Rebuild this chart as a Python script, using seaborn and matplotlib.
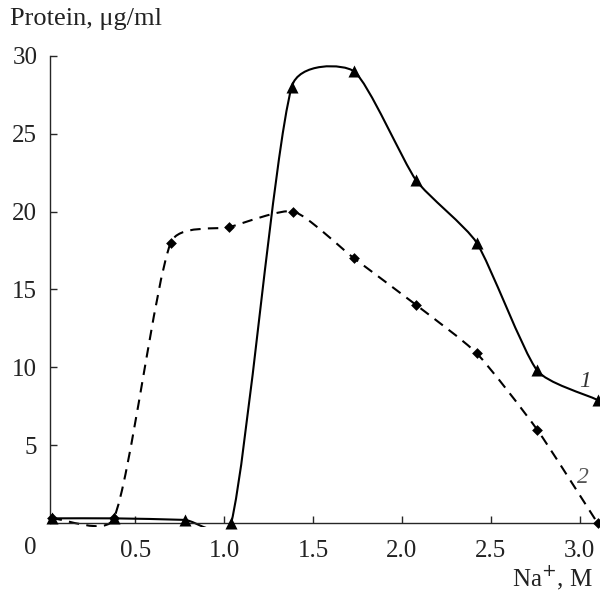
import numpy as np
import pandas as pd
import matplotlib
matplotlib.use("Agg")
import matplotlib.pyplot as plt
from matplotlib.path import Path
from matplotlib.patches import PathPatch, Rectangle
import seaborn as sns

# Data
na_1 = [0.03, 0.38, 0.78, 1.04, 1.38, 1.73, 2.08, 2.42, 2.76, 3.10]
protein_1 = [0.3, 0.3, 0.2, 0.0, 28.0, 29.0, 22.0, 18.0, 9.8, 7.9]

na_2 = [0.03, 0.38, 0.70, 1.03, 1.39, 1.73, 2.08, 2.42, 2.76, 3.10]
protein_2 = [0.3, 0.3, 18.0, 19.0, 20.0, 17.0, 14.0, 10.9, 6.0, 0.0]

x_ticks = [0.5, 1.0, 1.5, 2.0, 2.5, 3.0]
y_ticks = [5, 10, 15, 20, 25, 30]

# rough screen scale (px per data unit) used to weight the smoothing
SX, SY = 178.0, 15.6


def smooth_path(xs, ys, a=0.2):
    # smoothed line: bezier through the points, tangent length weighted
    # by sqrt of neighbouring segment lengths (centripetal-like)
    pts = np.column_stack([xs, ys]).astype(float)
    n = len(pts)
    scr = pts * [SX, SY]
    seg = np.sqrt(np.hypot(*np.diff(scr, axis=0).T))
    out_c, in_c = [], []
    for i in range(n):
        if i == 0:
            t = pts[1] - pts[0]
            out_c.append(pts[0] + t * a)
            in_c.append(pts[0])
        elif i == n - 1:
            t = pts[-1] - pts[-2]
            out_c.append(pts[-1])
            in_c.append(pts[-1] - t * a)
        else:
            t = pts[i + 1] - pts[i - 1]
            l0, l1 = seg[i - 1], seg[i]
            out_c.append(pts[i] + t * a * l1 / (l0 + l1))
            in_c.append(pts[i] - t * a * l0 / (l0 + l1))
    verts = [pts[0]]
    codes = [Path.MOVETO]
    for i in range(n - 1):
        verts += [out_c[i], in_c[i + 1], pts[i + 1]]
        codes += [Path.CURVE4] * 3
    return Path(verts, codes)


sns.set_style("ticks")
plt.rcParams['font.family'] = ['Liberation Serif', 'DejaVu Serif']
plt.rcParams['font.size'] = 18

fig = plt.figure(figsize=(6, 5.93), dpi=100)
ax = fig.add_axes([0.083, 0.118, 0.907, 0.788])

clip = Rectangle((-1, -0.25), 6, 40, transform=ax.transData)
for xs, ys, ls in [(na_1, protein_1, '-'), (na_2, protein_2, (0, (5, 3.5)))]:
    p = PathPatch(smooth_path(xs, ys), fill=False, edgecolor='black',
                  lw=1.5, linestyle=ls)
    ax.add_patch(p)
    p.set_clip_path(clip)

df1 = pd.DataFrame({'na': na_1, 'protein': protein_1})
df2 = pd.DataFrame({'na': na_2, 'protein': protein_2})
sns.scatterplot(data=df1, x='na', y='protein', marker='^', s=75,
                color='black', edgecolor='black', linewidth=0, ax=ax,
                clip_on=False, zorder=3)
sns.scatterplot(data=df2, x='na', y='protein', marker='D', s=30,
                color='black', edgecolor='black', linewidth=0, ax=ax,
                clip_on=False, zorder=4)

ax.set_xlim(0.02, 3.08)
ax.set_ylim(0, 30)
ax.set_xticks(x_ticks)
ax.set_xticklabels([f"{t:.1f}" for t in x_ticks])
ax.set_yticks(y_ticks)
ax.set_yticklabels([str(t) for t in y_ticks])
ax.tick_params(direction='in', length=5, width=1, labelsize=18,
               labelcolor='#222222')
ax.tick_params(axis='x', pad=12)
ax.tick_params(axis='y', pad=9)
ax.set_xlabel('')
ax.set_ylabel('')

sns.despine(ax=ax, top=True, right=True)
for s in ['left', 'bottom']:
    ax.spines[s].set_linewidth(1)

fig.text(0.017, 0.968, 'Protein, \u03bcg/ml', fontsize=19, va='center',
         ha='left', color='#222222')
fig.text(0.05, 0.076, '0', fontsize=18, ha='center', va='center',
         color='#222222')
fig.text(0.988, 0.025, 'Na$^{+}$, M', fontsize=18, ha='right', va='center',
         color='#222222')

ax.text(3.03, 9.1, '1', fontsize=17, style='italic', ha='center',
        va='center', color='#333333')
ax.text(3.02, 2.9, '2', fontsize=17, style='italic', ha='center',
        va='center', color='#555555')

fig.savefig('out.png', dpi=100)
